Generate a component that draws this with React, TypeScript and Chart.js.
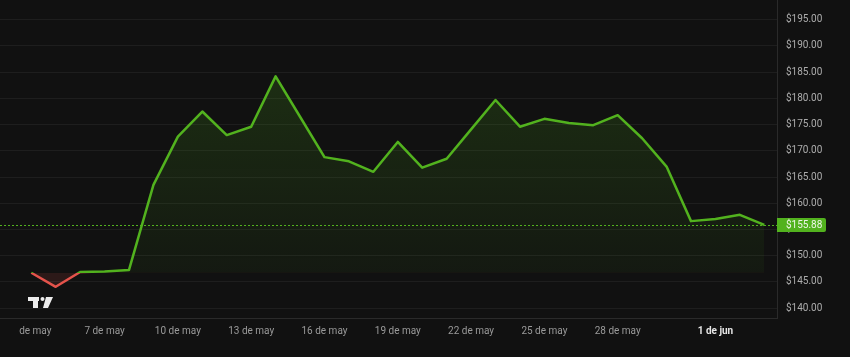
import React, { useEffect, useRef } from "react";
import { Chart, registerables } from "chart.js";

Chart.register(...registerables);

// Day numbers counted from 1 May (32 = 1 Jun)
const dayNumbers = [4, 5, 6, 7, 8, 9, 10, 11, 12, 13, 14, 15, 16, 17, 18, 19, 20, 21, 22, 23, 24, 25, 26, 27, 28, 29, 30, 31, 32, 33, 34];
const prices = [146.76, 144.08, 146.9, 147.0, 147.3, 163.5, 172.7, 177.5, 173.0, 174.6, 184.2, 176.5, 168.8, 168.0, 166.0, 171.7, 166.8, 168.5, 174.1, 179.7, 174.6, 176.1, 175.3, 174.9, 176.8, 172.4, 167.0, 156.6, 157.0, 157.8, 155.88];
const xTickDays = [4, 7, 10, 13, 16, 19, 22, 25, 28, 32];
const xTickLabels = ["4 de may", "7 de may", "10 de may", "13 de may", "16 de may", "19 de may", "22 de may", "25 de may", "28 de may", "1 de jun"];
const yTickValues = [140, 145, 150, 155, 160, 165, 170, 175, 180, 185, 190, 195];
const lastPrice = 155.88;
const baseline = prices[0];

const GREEN = "rgb(82,178,30)";
const RED = "rgb(229,83,75)";
const BG = "#111111";
const FONT = "Roboto, 'Noto Sans', sans-serif";

export default function App() {
  const ref = useRef<HTMLCanvasElement | null>(null);

  useEffect(() => {
    document.body.style.margin = "0";
    document.body.style.background = BG;
    const canvas = ref.current;
    if (!canvas) return;

    const overlay = {
      id: "overlay",
      beforeDatasetsDraw(chart: any) {
        const { ctx, chartArea, scales } = chart;
        const y = scales.y.getPixelForValue(lastPrice);
        ctx.save();
        ctx.strokeStyle = GREEN;
        ctx.lineWidth = 1;
        ctx.setLineDash([2, 2]);
        ctx.beginPath();
        ctx.moveTo(chartArea.left, Math.round(y) + 0.5);
        ctx.lineTo(chartArea.right, Math.round(y) + 0.5);
        ctx.stroke();
        ctx.restore();
      },
      afterDraw(chart: any) {
        const { ctx, chartArea, scales } = chart;
        const y = scales.y.getPixelForValue(lastPrice);
        ctx.save();
        // the time scale clips labels at its left edge
        ctx.fillStyle = BG;
        ctx.fillRect(0, chartArea.bottom + 1, 19, 30);
        // price label
        const x0 = chartArea.right;
        const w = 49;
        const h = 14;
        const top = Math.round(y - h / 2);
        ctx.fillStyle = GREEN;
        ctx.beginPath();
        ctx.moveTo(x0, top);
        ctx.lineTo(x0 + w - 2, top);
        ctx.quadraticCurveTo(x0 + w, top, x0 + w, top + 2);
        ctx.lineTo(x0 + w, top + h - 2);
        ctx.quadraticCurveTo(x0 + w, top + h, x0 + w - 2, top + h);
        ctx.lineTo(x0, top + h);
        ctx.closePath();
        ctx.fill();
        ctx.fillStyle = "#eef6e8";
        ctx.font = `10px ${FONT}`;
        ctx.textBaseline = "middle";
        ctx.textAlign = "left";
        ctx.fillText("$" + lastPrice.toFixed(2), x0 + 9, top + h / 2 + 0.5);
        // logo
        ctx.fillStyle = "#ececec";
        const lx = 28;
        const ly = 297;
        ctx.fillRect(lx, ly, 11, 4);
        ctx.fillRect(lx + 5, ly, 5, 11);
        ctx.beginPath();
        ctx.arc(lx + 14.5, ly + 2, 2, 0, Math.PI * 2);
        ctx.fill();
        ctx.beginPath();
        ctx.moveTo(lx + 18, ly);
        ctx.lineTo(lx + 25, ly);
        ctx.lineTo(lx + 20, ly + 11);
        ctx.lineTo(lx + 15, ly + 11);
        ctx.closePath();
        ctx.fill();
        ctx.restore();
      },
    };

    const chart = new Chart(canvas, {
      type: "line",
      data: {
        datasets: [
          {
            data: dayNumbers.map((d, i) => ({ x: d, y: prices[i] })),
            borderWidth: 2.5,
            pointRadius: 0,
            tension: 0,
            borderJoinStyle: "round",
            borderColor: (c: any) => {
              const ch = c.chart;
              const area = ch.chartArea;
              if (!area) return GREEN;
              const yb = ch.scales.y.getPixelForValue(baseline);
              const t = Math.min(1, Math.max(0, (yb - area.top) / (area.bottom - area.top)));
              const g = ch.ctx.createLinearGradient(0, area.top, 0, area.bottom);
              g.addColorStop(0, GREEN);
              g.addColorStop(t, GREEN);
              g.addColorStop(t, RED);
              g.addColorStop(1, RED);
              return g;
            },
            backgroundColor: (c: any) => {
              const ch = c.chart;
              const area = ch.chartArea;
              if (!area) return "rgba(82,178,30,0.12)";
              const yb = ch.scales.y.getPixelForValue(baseline);
              const yt = ch.scales.y.getPixelForValue(Math.max(...prices));
              const g = ch.ctx.createLinearGradient(0, yt, 0, yb);
              g.addColorStop(0, "rgba(82,178,30,0.18)");
              g.addColorStop(1, "rgba(82,178,30,0.05)");
              return g;
            },
            fill: { target: { value: baseline }, below: "rgba(229,83,75,0.13)" },
          } as any,
        ],
      },
      options: {
        animation: false,
        responsive: false,
        layout: { padding: 0 },
        plugins: { legend: { display: false }, tooltip: { enabled: false } },
        scales: {
          x: {
            type: "linear",
            min: 2.72,
            max: 34.52,
            grid: { display: false, drawTicks: false },
            border: { display: true, color: "#2a2a2a", width: 1 },
            afterBuildTicks: (s: any) => {
              s.ticks = xTickDays.map((v) => ({ value: v }));
            },
            afterFit: (s: any) => {
              s.height = 39;
              s.paddingLeft = 0;
              s.paddingRight = 0;
            },
            ticks: {
              autoSkip: false,
              maxRotation: 0,
              padding: 7,
              callback: (v: any) => {
                const i = xTickDays.indexOf(Number(v));
                return i >= 0 ? xTickLabels[i] : "";
              },
              color: (c: any) => (c.tick && c.tick.value === 32 ? "#e6e6e6" : "#9a9a9a"),
              font: (c: any) => ({ family: FONT, size: 10, weight: c.tick && c.tick.value === 32 ? "bold" : "normal" }),
            },
          },
          y: {
            type: "linear",
            position: "right",
            min: 138.13,
            max: 198.76,
            grid: { color: "rgba(255,255,255,0.055)", drawTicks: false },
            border: { display: true, color: "#2a2a2a", width: 1 },
            afterBuildTicks: (s: any) => {
              s.ticks = yTickValues.map((v) => ({ value: v }));
            },
            afterFit: (s: any) => {
              s.width = 73;
              s.paddingTop = 0;
              s.paddingBottom = 0;
            },
            ticks: {
              padding: 9,
              crossAlign: "near",
              color: "#adadad",
              font: { family: FONT, size: 10 },
              callback: (v: any) => "$" + Number(v).toFixed(2),
            },
          },
        },
      },
      plugins: [overlay],
    });

    return () => chart.destroy();
  }, []);

  return (
    <div style={{ width: 850, height: 357, background: BG }}>
      <canvas ref={ref} width={850} height={357} style={{ display: "block" }} />
    </div>
  );
}
